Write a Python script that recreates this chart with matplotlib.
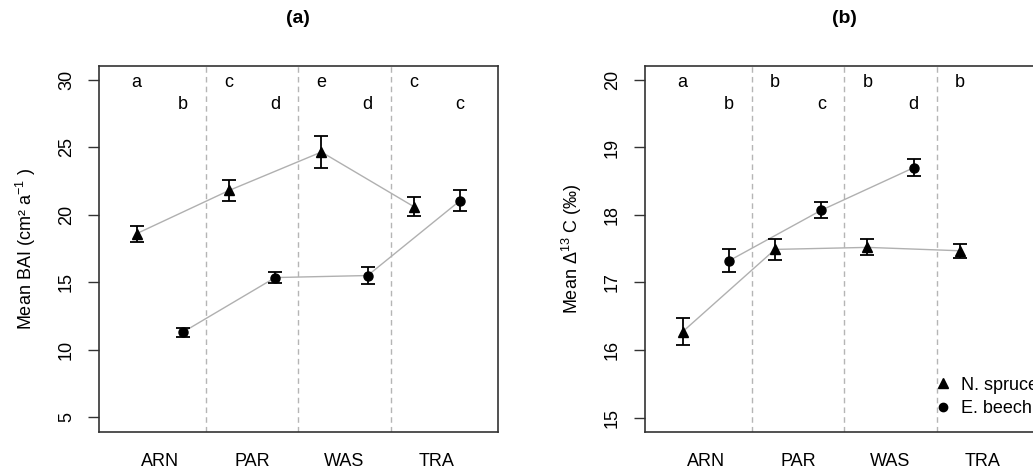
import numpy as np
import matplotlib
matplotlib.use("Agg")
import matplotlib.pyplot as plt
from matplotlib.lines import Line2D

plt.rcParams["font.family"] = ["Liberation Sans", "DejaVu Sans"]
plt.rcParams["mathtext.fontset"] = "custom"
plt.rcParams["mathtext.rm"] = "Liberation Sans"
plt.rcParams["mathtext.it"] = "Liberation Sans:italic"

sites = ["ARN", "PAR", "WAS", "TRA"]

# panel (a): mean basal area increment
bai_spruce = [18.6, 21.8, 24.65, 20.6]
bai_spruce_se = [0.6, 0.75, 1.15, 0.7]
bai_beech = [11.3, 15.35, 15.5, 21.05]
bai_beech_se = [0.35, 0.43, 0.6, 0.75]
bai_let_spruce = ["a", "c", "e", "c"]
bai_let_beech = ["b", "d", "d", "c"]

# panel (b): mean carbon isotope discrimination
d13_spruce = [16.27, 17.49, 17.52, 17.47]
d13_spruce_se = [0.2, 0.16, 0.12, 0.1]
d13_beech = [17.32, 18.07, 18.70, np.nan]
d13_beech_se = [0.17, 0.12, 0.13, np.nan]
d13_let_spruce = ["a", "b", "b", "b"]
d13_let_beech = ["b", "c", "d", ""]

x_spruce = np.arange(4) * 2 + 1
x_beech = np.arange(4) * 2 + 2

fig = plt.figure(figsize=(10.33, 4.71), dpi=100)
ax1 = fig.add_axes([0.0955, 0.0834, 0.3866, 0.777])
ax2 = fig.add_axes([0.6241, 0.0834, 0.3866, 0.777])

line_col = "#b0b0b0"
frame_col = "#333333"
fs = 13


def panel(ax, sp, sp_se, be, be_se, let_sp, let_be, ylim, yticks, ylab, title, let_y):
    ax.plot(x_spruce, sp, color=line_col, lw=1, zorder=1)
    ax.plot(x_beech, be, color=line_col, lw=1, zorder=1)
    ax.errorbar(x_spruce, sp, yerr=sp_se, fmt="^", color="black", ms=7.5,
                capsize=5, elinewidth=1.3, capthick=1.3, zorder=3)
    ax.errorbar(x_beech, be, yerr=be_se, fmt="o", color="black", ms=6.5,
                capsize=5, elinewidth=1.3, capthick=1.3, zorder=3)
    for xv in [2.5, 4.5, 6.5]:
        ax.axvline(xv, color="#b5b5b5", ls=(0, (4, 3)), lw=1, zorder=0)
    for xs, t in zip(x_spruce, let_sp):
        ax.text(xs, let_y[0], t, ha="center", va="center", fontsize=fs)
    for xb, t in zip(x_beech, let_be):
        ax.text(xb, let_y[1], t, ha="center", va="center", fontsize=fs)
    ax.set_xlim(0.18, 8.82)
    ax.set_ylim(*ylim)
    ax.set_yticks(yticks)
    ax.set_yticklabels([str(v) for v in yticks], rotation=90, va="center")
    ax.set_xticks(x_spruce + 0.5)
    ax.set_xticklabels(sites)
    ax.tick_params(axis="x", length=0, pad=15, labelsize=fs)
    ax.tick_params(axis="y", length=8, width=1, color=frame_col, pad=9, labelsize=fs)
    for s in ax.spines.values():
        s.set_color(frame_col)
        s.set_linewidth(1.2)
    ax.set_ylabel(ylab, fontsize=fs)
    ax.yaxis.set_label_coords(-0.151, 0.5)
    ax.set_title(title, fontsize=14, fontweight="bold", pad=31)


panel(ax1, bai_spruce, bai_spruce_se, bai_beech, bai_beech_se,
      bai_let_spruce, bai_let_beech, (3.93, 31.04), [5, 10, 15, 20, 25, 30],
      "Mean BAI (cm² a$^{-1}$ )", "(a)", (29.8, 28.2))
panel(ax2, d13_spruce, d13_spruce_se, d13_beech, d13_beech_se,
      d13_let_spruce, d13_let_beech, (14.79, 20.21), [15, 16, 17, 18, 19, 20],
      "Mean Δ$^{13}$ C (‰)", "(b)", (19.96, 19.64))

handles = [Line2D([], [], marker="^", color="black", ls="none", ms=7),
           Line2D([], [], marker="o", color="black", ls="none", ms=6)]
ax2.legend(handles, ["N. spruce", "E. beech"], loc="lower left",
           bbox_to_anchor=(0.725, 0.04), frameon=False, fontsize=fs,
           handlelength=1, handletextpad=0.5, labelspacing=0.35,
           borderpad=0, borderaxespad=0)

fig.savefig("out.png", dpi=100)
